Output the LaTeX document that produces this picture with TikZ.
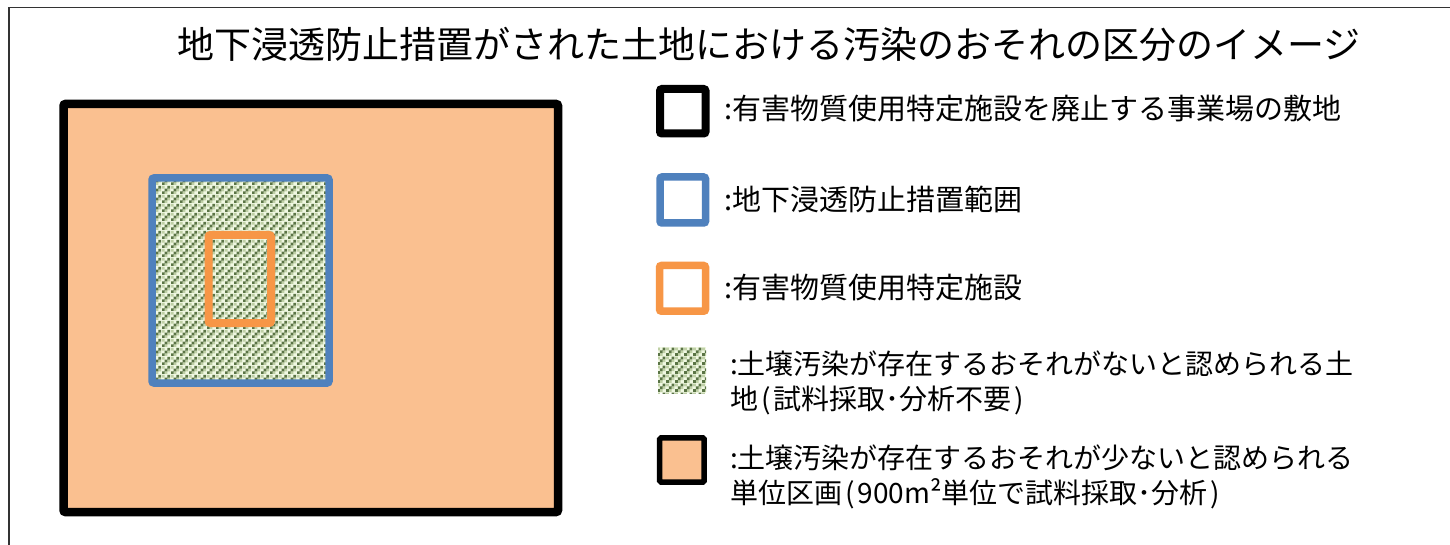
\documentclass[tikz,border=0pt]{standalone}
\usepackage{fontspec}
\setmainfont{Noto Sans CJK JP}
\usetikzlibrary{patterns}
\definecolor{peach}{HTML}{FAC090}
\definecolor{oblue}{HTML}{4F81BD}
\definecolor{oorange}{HTML}{F79646}
\definecolor{chkdark}{HTML}{5A7445}
\definecolor{chkmid}{HTML}{BFD0A6}
\definecolor{chklight}{HTML}{F0F8E2}
\pgfdeclarepatternformonly{diagdark}{\pgfqpoint{0pt}{0pt}}{\pgfqpoint{9pt}{9pt}}{\pgfqpoint{9pt}{9pt}}{%
  \pgfpathrectangle{\pgfqpoint{0pt}{0pt}}{\pgfqpoint{3pt}{3pt}}%
  \pgfpathrectangle{\pgfqpoint{3pt}{3pt}}{\pgfqpoint{3pt}{3pt}}%
  \pgfpathrectangle{\pgfqpoint{6pt}{6pt}}{\pgfqpoint{3pt}{3pt}}%
  \pgfusepath{fill}}
\pgfdeclarepatternformonly{diagmid}{\pgfqpoint{0pt}{0pt}}{\pgfqpoint{9pt}{9pt}}{\pgfqpoint{9pt}{9pt}}{%
  \pgfpathrectangle{\pgfqpoint{3pt}{0pt}}{\pgfqpoint{3pt}{3pt}}%
  \pgfpathrectangle{\pgfqpoint{6pt}{3pt}}{\pgfqpoint{3pt}{3pt}}%
  \pgfpathrectangle{\pgfqpoint{0pt}{6pt}}{\pgfqpoint{3pt}{3pt}}%
  \pgfusepath{fill}}
\newcommand{\lp}{\kern3pt(\kern3pt}
\newcommand{\rp}{\kern3pt)}
\begin{document}
\begin{tikzpicture}[x=1pt,y=-1pt,
  frameline/.style={draw=black!80, line width=1.5pt},
  sitebox/.style={draw=black, line width=8.5pt, rounded corners=2pt},
  rangebox/.style={draw=oblue, line width=7.5pt, rounded corners=2pt},
  facbox/.style={draw=oorange, line width=8pt, rounded corners=2pt},
  lowbox/.style={draw=black, line width=5.5pt, fill=peach, rounded corners=1.5pt},
  title/.style={anchor=west, inner sep=0pt, font=\fontsize{37}{44}\selectfont},
  lbl/.style={anchor=west, inner sep=0pt, align=left, font=\fontsize{29}{35}\selectfont},
  lbltwo/.style={anchor=west, inner sep=0pt, align=left, font=\fontsize{28}{35}\selectfont}]
\useasboundingbox (0,0) rectangle (1450,545);
\fill[white] (0,0) rectangle (1450,545);
% frame
\draw[frameline] (9,545) -- (9,7.5) -- (1450,7.5);
% title
\node[title] (ttl) at (177,44) {地下浸透防止措置がされた土地における汚染のおそれの区分のイメージ};
% main figure
\fill[peach, rounded corners=2pt] (63.5,104) rectangle (558,512);
\fill[chklight] (152,178) rectangle (329,383);
\fill[pattern=diagmid, pattern color=chkmid] (152,178) rectangle (329,383);
\fill[pattern=diagdark, pattern color=chkdark] (152,178) rectangle (329,383);
\draw[sitebox] (63.5,104) rectangle (558,512);
\draw[rangebox] (152,178) rectangle (329,383);
\draw[facbox] (208.5,235) rectangle (271,323);
% legend symbols
\draw[sitebox, line width=8pt] (660,89) rectangle (705.5,133.5);
\draw[rangebox] (660,177) rectangle (705.5,223);
\draw[facbox, line width=7.5pt] (659.5,265.5) rectangle (705.5,311.2);
\fill[chklight] (658,347) rectangle (706,393);
\fill[pattern=diagmid, pattern color=chkmid] (658,347) rectangle (706,393);
\fill[pattern=diagdark, pattern color=chkdark] (658,347) rectangle (706,393);
\draw[lowbox] (659.7,437.8) rectangle (704.2,482.2);
% legend texts
\node[lbl] (l1) at (724,108) {:有害物質使用特定施設を廃止する事業場の敷地};
\node[lbl] (l2) at (724,199) {:地下浸透防止措置範囲};
\node[lbl] (l3) at (724,288) {:有害物質使用特定施設};
\node[lbltwo] (l4) at (730,383) {:土壌汚染が存在するおそれがないと認められる土\\地\lp 試料採取･分析不要\rp};
\node[lbltwo] (l5) at (730,477) {:土壌汚染が存在するおそれが少ないと認められる\\単位区画\lp 900m²単位で試料採取･分析\rp};
\end{tikzpicture}
\end{document}
